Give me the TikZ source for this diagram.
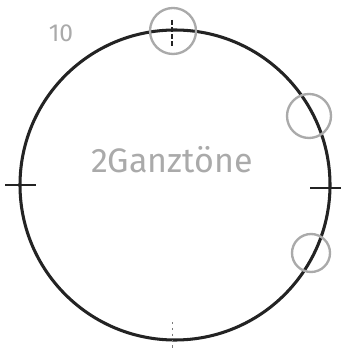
\documentclass[tikz,border=0pt]{standalone}
\usepackage{fontspec}
\setsansfont{Fira Sans}
\usepackage{xcolor}
\definecolor{inkdark}{RGB}{35,35,35}
\definecolor{pencilgray}{RGB}{170,170,170}

\begin{document}
\begin{tikzpicture}[x=0.03cm, y=-0.03cm]
  \useasboundingbox (0,0) rectangle (343,349);
  \fill[white] (0,0) rectangle (343,349);
  % main circle and the four ticks
  \draw[inkdark, line width=2.6pt] (175,185) ellipse [x radius=155, y radius=155];
  \draw[inkdark, line width=1.3pt] (5,185) -- (36,185);
  \draw[inkdark, line width=1.3pt] (310,188) -- (341,188);
  \draw[inkdark, line width=0.9pt, dash pattern=on 4pt off 2pt] (172,20) -- (172,46);
  \draw[inkdark!60, line width=0.8pt, dash pattern=on 2pt off 3pt] (172,322) -- (172,349);
  % gray marks
  \draw[pencilgray, line width=2pt] (173,31) circle [radius=23];
  \draw[pencilgray, line width=2pt] (309,116) circle [radius=22];
  \draw[pencilgray, line width=2pt] (311,253) circle [radius=19];
  \node[pencilgray, font=\sffamily\fontsize{21}{21}\selectfont] at (61,33) {10};
  \node[pencilgray, font=\sffamily\fontsize{29}{29}\selectfont] at (172,160) {2Ganztöne};
\end{tikzpicture}
\end{document}
